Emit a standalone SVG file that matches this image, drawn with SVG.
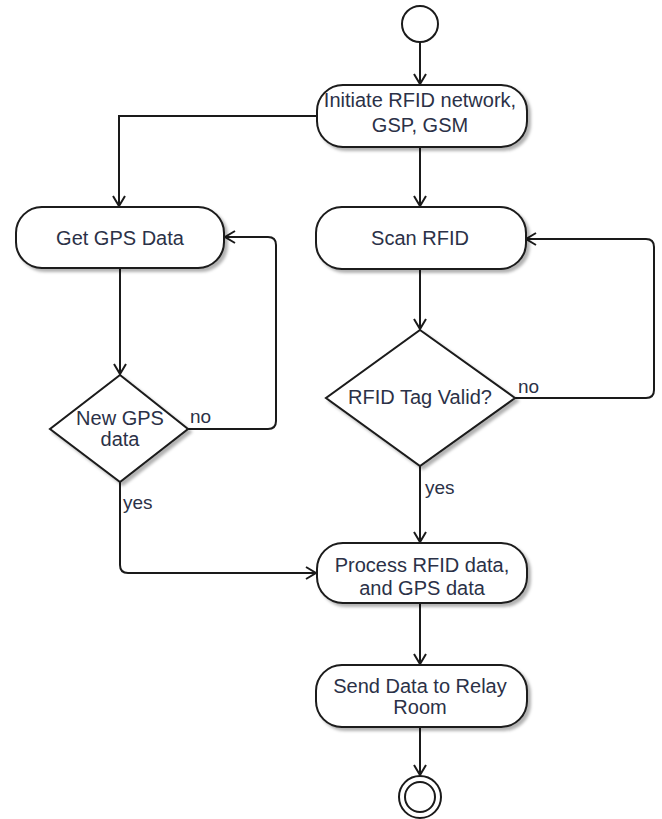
<svg xmlns="http://www.w3.org/2000/svg" width="662" height="819" viewBox="0 0 662 819">
<defs>
<marker id="arr" markerWidth="14" markerHeight="14" refX="11" refY="7" orient="auto" markerUnits="userSpaceOnUse">
<path d="M1,1 L11,7 L1,13" fill="none" stroke="#1a1a1a" stroke-width="2"/>
</marker>
<filter id="sh" x="-10%" y="-10%" width="130%" height="140%">
<feDropShadow dx="3" dy="3" stdDeviation="1.5" flood-color="#000" flood-opacity="0.3"/>
</filter>
</defs>
<style>
.n{fill:#fff;stroke:#1a1a1a;stroke-width:2;filter:url(#sh)}
.t{font-family:"Liberation Sans",Arial,sans-serif;font-size:20px;fill:#2b3147;text-anchor:middle}
.l{font-family:"Liberation Sans",Arial,sans-serif;font-size:19px;fill:#2b3147}
.c{fill:none;stroke:#1a1a1a;stroke-width:2}
</style>
<rect width="662" height="819" fill="#fff"/>
<g id="connectors">
<path class="c" d="M420,42 L420,84" marker-end="url(#arr)"/>
<path class="c" d="M317,116 L119,116 L119,206" marker-end="url(#arr)"/>
<path class="c" d="M420,147 L420,206" marker-end="url(#arr)"/>
<path class="c" d="M420,269 L420,329" marker-end="url(#arr)"/>
<path class="c" d="M515,398 L646,398 Q654,398 654,390 L654,247 Q654,239 646,239 L526,239" marker-end="url(#arr)"/>
<path class="c" d="M120,268 L120,374" marker-end="url(#arr)"/>
<path class="c" d="M188,429 L268,429 Q276,429 276,421 L276,245 Q276,237 268,237 L225,237" marker-end="url(#arr)"/>
<path class="c" d="M120,482 L120,565 Q120,573 128,573 L316,573" marker-end="url(#arr)"/>
<path class="c" d="M420,466 L420,542" marker-end="url(#arr)"/>
<path class="c" d="M420,603 L420,664" marker-end="url(#arr)"/>
<path class="c" d="M420,727 L420,775" marker-end="url(#arr)"/>
<text class="l" x="190" y="423">no</text>
<text class="l" x="123" y="509">yes</text>
<text class="l" x="518" y="393">no</text>
<text class="l" x="425" y="494">yes</text>
</g>
<g id="start">
<circle cx="420" cy="24" r="18" fill="#fff" stroke="#1a1a1a" stroke-width="2"/>
</g>
<g id="initiate">
<rect class="n" x="317" y="85" width="210" height="62" rx="26"/>
<text class="t" x="420" y="107">Initiate RFID network,</text>
<text class="t" x="420" y="132">GSP, GSM</text>
</g>
<g id="getgps">
<rect class="n" x="16" y="207" width="208" height="61" rx="26"/>
<text class="t" x="120" y="245">Get GPS Data</text>
</g>
<g id="scan">
<rect class="n" x="316" y="207" width="210" height="62" rx="26"/>
<text class="t" x="420" y="245">Scan RFID</text>
</g>
<g id="newgps">
<polygon class="n" points="120,375 188,429 120,482 50,429"/>
<text class="t" x="120" y="425">New GPS</text>
<text class="t" x="120" y="446">data</text>
</g>
<g id="valid">
<polygon class="n" points="420,330 515,398 420,466 326,398"/>
<text class="t" x="420" y="404">RFID Tag Valid?</text>
</g>
<g id="process">
<rect class="n" x="317" y="543" width="210" height="60" rx="26"/>
<text class="t" x="422" y="572">Process RFID data,</text>
<text class="t" x="422" y="595">and GPS data</text>
</g>
<g id="send">
<rect class="n" x="316" y="665" width="211" height="62" rx="26"/>
<text class="t" x="420" y="693">Send Data to Relay</text>
<text class="t" x="420" y="714">Room</text>
</g>
<g id="end">
<circle cx="420" cy="797" r="21" fill="#fff" stroke="#1a1a1a" stroke-width="2"/>
<circle cx="420" cy="797" r="15" fill="none" stroke="#1a1a1a" stroke-width="2"/>
</g>
</svg>
